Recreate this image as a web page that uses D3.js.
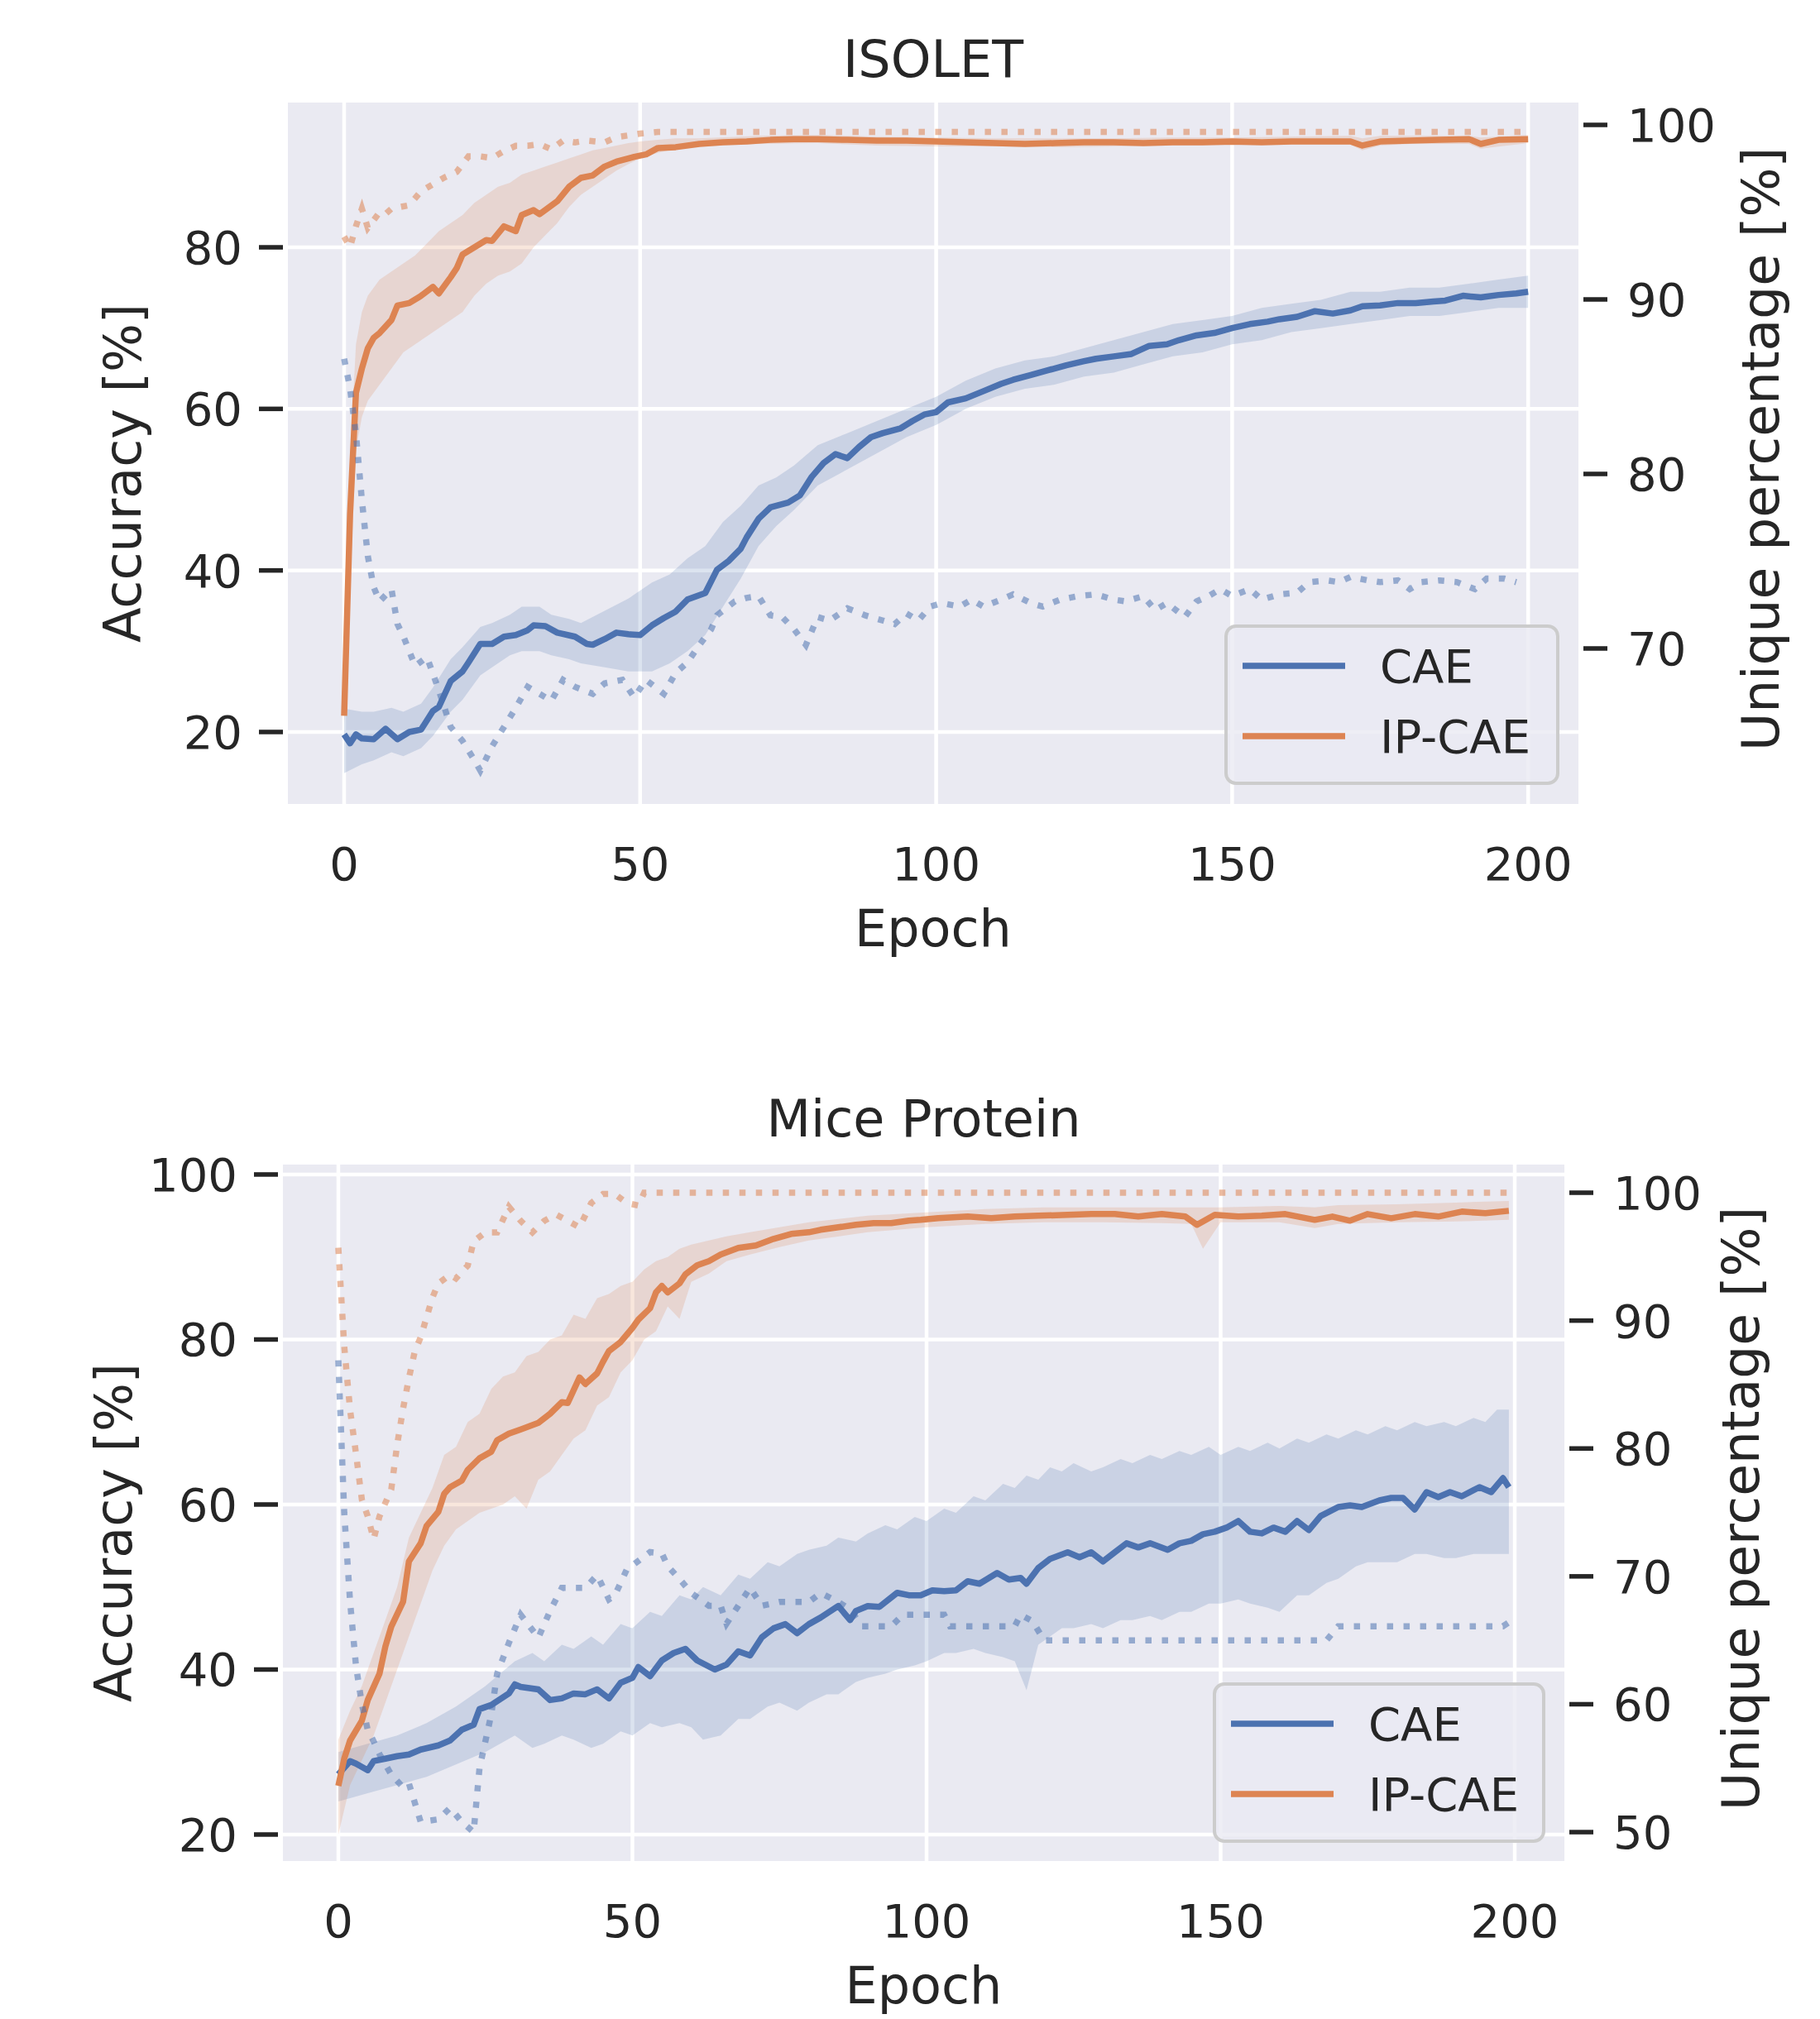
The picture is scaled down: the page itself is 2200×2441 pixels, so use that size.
<!DOCTYPE html>
<html>
<head>
<meta charset="utf-8">
<script src="https://cdnjs.cloudflare.com/ajax/libs/d3/7.8.5/d3.min.js"></script>
<style>
  body { margin: 0; background: #fff; }
  text { font-family: "DejaVu Sans", sans-serif; fill: #262626; }
</style>
</head>
<body>
<div id="chart"></div>
<script>
// ---- tick labels ----
var epochTicks = [0, 50, 100, 150, 200];
var isoAccTicks = [20, 40, 60, 80];
var isoUniqTicks = [70, 80, 90, 100];
var miceAccTicks = [20, 40, 60, 80, 100];
var miceUniqTicks = [50, 60, 70, 80, 90, 100];
var seriesNames = ['CAE', 'IP-CAE'];

// ---- ISOLET : [epoch, accuracy] ----
var isoCaeMean = [[0,19.7],[1,18.6],[2,19.7],[3,19.2],[5,19.1],[7,20.4],[9,19.1],[11,20],[13,20.3],[15,22.6],[16,23.1],[18,26.3],[20,27.5],[21,28.6],[23,30.9],[25,30.9],[27,31.8],[29,32],[31,32.6],[32,33.2],[34,33.1],[36,32.3],[39,31.8],[41,30.9],[42,30.8],[44,31.5],[46,32.3],[48,32.1],[50,32],[52,33.2],[54,34.1],[56,34.9],[58,36.4],[61,37.2],[63,40.1],[65,41.2],[67,42.7],[68,44.1],[70,46.4],[72,47.8],[75,48.4],[77,49.3],[79,51.6],[81,53.3],[83,54.4],[85,53.9],[87,55.3],[89,56.5],[91,57],[94,57.6],[96,58.5],[98,59.3],[100,59.6],[102,60.8],[105,61.3],[108,62.2],[111,63.1],[113,63.6],[116,64.2],[119,64.8],[122,65.4],[125,65.9],[127,66.2],[130,66.5],[133,66.8],[136,67.8],[139,68],[141,68.5],[144,69.1],[147,69.4],[150,70],[153,70.5],[156,70.8],[158,71.1],[161,71.4],[164,72.1],[167,71.8],[170,72.2],[172,72.7],[175,72.8],[178,73.1],[181,73.1],[184,73.3],[186,73.4],[189,74],[192,73.8],[195,74.1],[198,74.3],[200,74.5]];
// [epoch, low, high]
var isoCaeBand = [[0,14.9,22.9],[3,16,22.5],[5,16.5,22.5],[8,17.5,23],[10,17,22.5],[13,18,23.5],[15,19.5,25.5],[18,22.5,29],[20,24,30.5],[23,27,33],[25,28,33.5],[28,29.5,34.5],[30,30,35.5],[33,30,35.5],[35,29.5,34.5],[38,29,34],[40,28.5,33.5],[44,28,35],[48,27.5,36.5],[52,27.5,38.5],[55,28.5,39.5],[58,30,41.5],[61,32,43],[64,35.5,46],[67,39,48],[70,43,50.5],[73,45.5,51.5],[76,47.5,53],[80,50.5,55.5],[85,52.5,57],[90,54.5,58.5],[95,56.5,60],[100,58,61.5],[105,60,63.5],[110,61.5,65],[115,62.5,66],[120,63,66.5],[125,64,67.5],[130,64.5,68.5],[135,65.5,69.5],[140,66.5,70.5],[145,67,71],[150,68,71.5],[155,68.5,72.5],[160,69.5,73],[165,70,73.5],[170,70.5,74.5],[175,71,74.5],[180,71.5,75],[185,71.5,75],[190,72,75.5],[195,72.5,76],[200,72.5,76.5]];
var isoIpMean = [[0,22],[1,47],[2,62],[3,65],[4,67.5],[5,68.8],[6,69.4],[8,71],[9,72.8],[11,73.1],[13,74],[15,75.1],[16,74.3],[18,76.3],[19,77.4],[20,79.1],[22,80],[24,80.9],[25,80.8],[27,82.6],[29,82],[30,84],[32,84.6],[33,84.1],[36,85.7],[38,87.5],[40,88.6],[42,88.9],[44,90],[46,90.6],[49,91.2],[51,91.5],[53,92.3],[56,92.4],[60,92.8],[64,93],[68,93.1],[72,93.3],[76,93.4],[80,93.4],[85,93.3],[90,93.2],[95,93.2],[100,93.1],[105,93],[110,92.9],[115,92.8],[120,92.9],[125,93],[130,93],[135,92.9],[140,93],[145,93],[150,93.1],[155,93],[160,93.1],[165,93.1],[170,93.1],[172,92.6],[175,93.1],[180,93.2],[185,93.3],[190,93.4],[192,92.8],[195,93.3],[200,93.4]];
var isoIpBand = [[0,21,23],[1,38,54],[2,55,68],[3,59,72],[4,61,74],[6,63,76],[8,65,77],[10,67,78],[12,68,79],[14,69,80.5],[16,70,82],[18,71,83],[20,72,84],[22,74,85.5],[24,75.5,86.5],[26,76.5,87.5],[28,77,88],[30,78,89],[32,80,89.5],[34,81.5,90],[36,83,90.5],[38,85,91],[40,86.5,91.5],[42,87.5,92],[44,88.5,92.3],[46,89.5,92.6],[48,90.3,92.9],[50,91,93.1],[53,91.7,93.3],[56,92.2,93.5],[60,92.5,93.5],[70,92.8,93.8],[80,92.9,93.9],[90,92.6,93.7],[100,92.5,93.6],[110,92.5,93.5],[120,92.4,93.5],[130,92.5,93.5],[140,92.6,93.6],[150,92.6,93.6],[160,92.7,93.7],[170,92.7,93.8],[172,92,93.5],[175,92.6,93.8],[180,92.8,93.8],[190,92.8,93.8],[192,92.2,93.6],[200,92.9,93.9]];
// [epoch, unique %]
var isoCaeUnique = [[0,86.6],[1,84.9],[2,82.3],[3,78.5],[4,75.3],[5,73.5],[6,72.7],[8,73.4],[9,71.4],[10,70.7],[12,69],[14,69.5],[16,67.6],[18,65.5],[20,64.7],[22,63.6],[23,63],[25,64.4],[27,65.5],[29,66.6],[31,67.8],[33,67.4],[35,67],[37,68.2],[39,67.8],[42,67.4],[44,68],[47,68.2],[49,67.2],[51,68.2],[54,67.4],[56,68.6],[58,69.2],[60,70.2],[62,71.1],[63,71.9],[66,72.7],[68,72.9],[70,73],[72,71.9],[74,71.8],[76,71.1],[78,70.2],[80,71.8],[82,71.6],[85,72.3],[88,71.9],[91,71.6],[93,71.4],[95,72],[97,71.6],[99,72.4],[101,72.6],[104,72.4],[106,72.8],[108,72.4],[111,72.8],[113,73.1],[116,72.6],[118,72.4],[121,72.8],[124,73],[127,73.1],[130,72.8],[132,72.7],[135,73],[137,72.2],[139,72.6],[142,71.8],[144,72.7],[146,73],[148,73.4],[150,73],[153,73.4],[155,72.8],[158,73.1],[161,73.2],[163,73.8],[166,73.9],[168,73.8],[170,74.1],[173,73.9],[175,73.8],[178,73.9],[180,73.4],[182,73.8],[185,73.9],[188,73.8],[191,73.4],[193,74],[196,74],[198,73.8]];
var isoIpUnique = [[0,93.6],[1,93],[2,94.2],[3,95.2],[4,94.1],[6,95],[7,94.9],[8,95.2],[11,95.4],[13,96.2],[15,96.6],[17,97],[19,97.3],[21,98.2],[23,98.2],[25,98.1],[27,98.5],[29,98.8],[31,98.8],[33,98.9],[35,98.6],[37,99.1],[39,99],[41,99.1],[44,99],[46,99.3],[48,99.4],[50,99.5],[53,99.6],[200,99.6]];

// ---- Mice Protein ----
var miceCaeMean = [[0,27.3],[2,28.9],[3,28.6],[5,27.8],[6,28.9],[8,29.2],[10,29.5],[12,29.7],[14,30.3],[17,30.8],[19,31.4],[21,32.7],[23,33.3],[24,35.2],[26,35.7],[29,37.1],[30,38.2],[31,37.9],[34,37.6],[36,36.3],[38,36.5],[40,37.1],[42,37],[44,37.6],[46,36.5],[48,38.4],[50,39],[51,40.3],[53,39.2],[55,41.1],[57,42],[59,42.5],[61,41.1],[64,40],[66,40.6],[68,42.2],[70,41.7],[72,43.9],[74,45],[76,45.5],[78,44.4],[80,45.5],[82,46.3],[85,47.7],[87,46],[88,47.1],[90,47.7],[92,47.6],[95,49.3],[97,49],[99,49],[101,49.6],[103,49.5],[105,49.6],[107,50.7],[109,50.4],[112,51.7],[114,50.9],[116,51.1],[117,50.4],[119,52.3],[121,53.4],[124,54.2],[126,53.6],[128,54.2],[130,53.1],[132,54.2],[134,55.3],[136,54.8],[138,55.3],[141,54.5],[143,55.3],[145,55.6],[147,56.4],[149,56.7],[151,57.2],[153,58],[155,56.7],[157,56.5],[159,57.2],[161,56.7],[163,58],[165,56.9],[167,58.6],[170,59.7],[172,59.9],[174,59.7],[177,60.5],[179,60.8],[181,60.8],[183,59.4],[185,61.5],[187,60.9],[189,61.5],[191,61],[194,62.1],[196,61.5],[198,63.2],[199,62.1]];
var miceCaeBand = [[0,24,30],[5,25,31],[10,26,32],[15,27,33.5],[20,28.5,35.5],[25,30,38],[30,32,41],[33,30.5,42],[35,31,41],[38,32,43],[40,31.5,42.5],[43,30.5,44],[45,31,43],[48,32.5,45.5],[50,32,45],[53,33.5,47],[55,33,46.5],[58,33.5,49],[60,33,48.5],[62,31.5,50],[65,32,49],[68,34,51.5],[70,34,51],[73,35.5,53],[75,36,52.5],[78,35,54],[80,36,54.5],[83,37,55],[85,37,56],[88,38.5,55.5],[90,39,56.5],[93,39.5,57.5],[95,40,57],[98,40.5,58.5],[100,41,58],[103,42,59.5],[105,42,59],[108,42.5,61],[110,42,60.5],[113,41.5,62.5],[115,41,62],[117,37.5,63.5],[119,43,63],[121,44,64.5],[123,45,64],[125,45,65],[128,45.5,64],[130,45,64.5],[133,46,65.5],[135,46,65],[138,46.5,66],[140,46,65.5],[143,47,66.5],[145,47,66],[148,48,67],[150,48,66],[153,48.5,67],[155,48,66.5],[158,47.5,67.5],[160,47,66.8],[163,49,68],[165,49,67.5],[168,50.5,68.5],[170,51,68],[173,52.5,69],[175,53,68.5],[178,53,69.5],[180,53,69],[183,54,70],[185,54,69.5],[188,53.5,70],[190,53.5,69.5],[193,54,70.5],[195,54,70],[197,54,71.5],[199,54,71.5]];
var miceIpMean = [[0,25.9],[1,29.2],[2,31.4],[4,33.8],[5,36.3],[7,39.5],[8,42.8],[9,45.2],[11,48.2],[12,53.1],[14,55.3],[15,57.4],[17,59.1],[18,61.3],[19,62.1],[21,62.9],[22,64.2],[24,65.6],[26,66.4],[27,67.8],[29,68.6],[31,69.1],[34,69.9],[36,71],[38,72.4],[39,72.3],[41,75.4],[42,74.6],[44,75.9],[45,77.3],[46,78.6],[48,79.7],[50,81.4],[51,82.4],[53,83.8],[54,85.7],[55,86.5],[56,85.7],[58,86.8],[59,87.9],[61,89],[63,89.5],[65,90.3],[68,91.1],[71,91.4],[74,92.2],[77,92.8],[80,93],[82,93.3],[85,93.6],[88,93.9],[91,94.1],[94,94.1],[97,94.4],[99,94.5],[102,94.7],[107,94.9],[111,94.7],[115,94.9],[119,95],[124,95.1],[128,95.2],[132,95.2],[136,94.9],[140,95.2],[144,94.9],[146,93.9],[149,95.1],[153,94.9],[157,95],[161,95.2],[166,94.5],[169,94.9],[172,94.4],[175,95.2],[179,94.7],[183,95.2],[187,94.9],[191,95.5],[195,95.3],[199,95.6]];
var miceIpBand = [[0,20,31.5],[2,26,35],[4,29,38],[6,32,42],[8,36,46],[10,40,50],[12,44,56],[14,48,59],[16,52,62],[18,55,66],[20,57,67],[22,58,70],[24,59,71],[26,59.5,74],[28,60,75.5],[30,61,76],[32,59.5,78],[34,63,78.5],[36,64,80],[38,66,80.5],[40,68,83],[42,69,82.5],[44,72,85],[46,73,85.5],[48,76,86.5],[50,77.5,87],[52,80,88.5],[54,81,89.5],[56,84,90],[58,82.5,91],[60,87,91.5],[63,88,92],[66,89.5,92.5],[70,90.3,93],[75,91.2,93.6],[80,92,94.2],[90,93,95],[100,93.6,95.4],[110,94,95.8],[120,94.2,96],[130,94.2,96],[140,94.1,96],[145,94,96],[147,91,96],[150,94.2,96],[160,94.2,96.2],[166,93.5,96],[170,94,96.3],[180,94.2,96.4],[190,94.3,96.6],[199,94.5,96.8]];
var miceCaeUnique = [[0,86.9],[1,75],[2,68],[3,63],[4,60],[5,58],[6,57.1],[7,56.1],[9,54.5],[11,53.5],[12,53.8],[14,50.8],[17,51],[19,51.9],[21,50.8],[23,50],[24,55],[26,59.2],[27,62.4],[29,64.8],[31,67],[34,65.2],[36,67.3],[38,69.1],[40,69.1],[42,69.1],[44,70.1],[46,68.2],[47,68.5],[49,70.5],[51,71.2],[53,71.9],[55,71.8],[56,70.8],[58,69.8],[60,68.7],[63,67.7],[65,67.7],[66,66.3],[68,67.7],[70,69.1],[72,67.7],[75,68],[80,68],[82,68.7],[85,68],[87,67.4],[89,66.1],[94,66.1],[96,67],[103,67],[104,66.1],[115,66.1],[116,67],[118,66.5],[120,65],[168,65],[170,66.1],[198,66.1],[199,66.4]];
var miceIpUnique = [[0,95.7],[1,88],[2,83],[3,79.6],[4,76],[5,74.7],[6,72.9],[7,74.7],[9,76.8],[10,80.3],[11,83.1],[12,85.5],[13,87.6],[14,88.7],[16,91.8],[17,92.9],[19,93.6],[20,93.3],[22,94.3],[23,96.2],[25,96.9],[27,96.9],[29,98.9],[31,97.8],[33,96.9],[35,97.8],[37,98.3],[39,97.8],[41,97.3],[43,99.2],[45,99.9],[47,99.9],[49,99.2],[51,99],[52,100],[199,100]];

var blue = '#4c72b0', orange = '#dd8452';
var lineW = 7.5;

var svg = d3.select('#chart').append('svg')
	.attr('width', 2200)
	.attr('height', 2441)
	.style('display', 'block');

svg.append('rect').attr('width', 2200).attr('height', 2441).attr('fill', '#fff');

function drawPanel(p) {
	var g = svg.append('g');
	var x = d3.scaleLinear().domain(p.xDom).range([p.l, p.r]);
	var y = d3.scaleLinear().domain(p.yDom).range([p.b, p.t]);
	var y2 = d3.scaleLinear().domain(p.y2Dom).range([p.b, p.t]);

	g.append('rect')
		.attr('x', p.l).attr('y', p.t)
		.attr('width', p.r - p.l).attr('height', p.b - p.t)
		.attr('fill', '#eaeaf2');

	// grid
	g.selectAll('.vgrid').data(epochTicks).enter().append('line')
		.attr('x1', function(d) { return x(d); }).attr('x2', function(d) { return x(d); })
		.attr('y1', p.t).attr('y2', p.b)
		.attr('stroke', '#fff').attr('stroke-width', 4.5);
	g.selectAll('.hgrid').data(p.yTicks).enter().append('line')
		.attr('y1', function(d) { return y(d); }).attr('y2', function(d) { return y(d); })
		.attr('x1', p.l).attr('x2', p.r)
		.attr('stroke', '#fff').attr('stroke-width', 4.5);

	var clipId = 'clip_' + p.id;
	svg.append('clipPath').attr('id', clipId).append('rect')
		.attr('x', p.l).attr('y', p.t)
		.attr('width', p.r - p.l).attr('height', p.b - p.t);
	var plot = g.append('g').attr('clip-path', 'url(#' + clipId + ')');

	var area = d3.area()
		.x(function(d) { return x(d[0]); })
		.y0(function(d) { return y(d[1]); })
		.y1(function(d) { return y(d[2]); });
	var line = d3.line()
		.x(function(d) { return x(d[0]); })
		.y(function(d) { return y(d[1]); });
	var line2 = d3.line()
		.x(function(d) { return x(d[0]); })
		.y(function(d) { return y2(d[1]); });

	p.series.forEach(function(s) {
		plot.append('path').attr('d', area(s.band))
			.attr('fill', s.color).attr('fill-opacity', 0.2);
	});
	p.series.forEach(function(s) {
		plot.append('path').attr('d', line(s.mean))
			.attr('fill', 'none').attr('stroke', s.color)
			.attr('stroke-width', lineW).attr('stroke-linejoin', 'round');
	});
	p.series.forEach(function(s) {
		plot.append('path').attr('d', line2(s.unique))
			.attr('fill', 'none').attr('stroke', s.color)
			.attr('stroke-opacity', 0.55)
			.attr('stroke-width', lineW).attr('stroke-dasharray', '7.5 12.5');
	});

	// left axis ticks
	g.selectAll('.lt').data(p.yTicks).enter().append('line')
		.attr('x1', p.l - 35).attr('x2', p.l - 6)
		.attr('y1', function(d) { return y(d); }).attr('y2', function(d) { return y(d); })
		.attr('stroke', '#262626').attr('stroke-width', 5.5);
	g.selectAll('.ll').data(p.yTicks).enter().append('text')
		.attr('x', p.l - 55)
		.attr('y', function(d) { return y(d) + 20; })
		.attr('text-anchor', 'end')
		.attr('font-size', 56)
		.text(function(d) { return d; });

	// right axis ticks
	g.selectAll('.rt').data(p.y2Ticks).enter().append('line')
		.attr('x1', p.r + 6).attr('x2', p.r + 35)
		.attr('y1', function(d) { return y2(d); }).attr('y2', function(d) { return y2(d); })
		.attr('stroke', '#262626').attr('stroke-width', 5.5);
	g.selectAll('.rl').data(p.y2Ticks).enter().append('text')
		.attr('x', p.r + 59)
		.attr('y', function(d) { return y2(d) + 20; })
		.attr('font-size', 56)
		.text(function(d) { return d; });

	// x tick labels
	g.selectAll('.xl').data(epochTicks).enter().append('text')
		.attr('x', function(d) { return x(d); })
		.attr('y', p.b + 92)
		.attr('text-anchor', 'middle')
		.attr('font-size', 56)
		.text(function(d) { return d; });

	// titles and labels
	var cx = (p.l + p.r) / 2, cy = (p.t + p.b) / 2;
	g.append('text').attr('x', cx).attr('y', p.titleY)
		.attr('text-anchor', 'middle').attr('font-size', 62).text(p.title);
	g.append('text').attr('x', cx).attr('y', p.b + 172)
		.attr('text-anchor', 'middle').attr('font-size', 62).text('Epoch');
	g.append('text')
		.attr('transform', 'translate(' + p.yLabelX + ',' + (cy + 24) + ') rotate(-90)')
		.attr('text-anchor', 'middle').attr('font-size', 62).text('Accuracy [%]');
	g.append('text')
		.attr('transform', 'translate(' + p.y2LabelX + ',' + (cy - 5) + ') rotate(-90)')
		.attr('text-anchor', 'middle').attr('font-size', 63).text('Unique percentage [%]');

	// legend
	var lg = g.append('g').attr('transform', 'translate(' + p.lgX + ',' + p.lgY + ')');
	lg.append('rect')
		.attr('x', 0).attr('y', 0).attr('width', p.lgW).attr('height', 190)
		.attr('rx', 12).attr('ry', 12)
		.attr('fill', '#eaeaf2').attr('fill-opacity', 0.8)
		.attr('stroke', '#cccccc').attr('stroke-width', 4);
	p.series.forEach(function(s, i) {
		var ry = 48 + i * 85;
		lg.append('line').attr('x1', 20).attr('x2', 144)
			.attr('y1', ry).attr('y2', ry)
			.attr('stroke', s.color).attr('stroke-width', lineW);
		lg.append('text').attr('x', 186).attr('y', ry + 20)
			.attr('font-size', 56).text(s.name);
	});
}

drawPanel({
	id: 'iso', title: 'ISOLET',
	l: 348, r: 1908, t: 124, b: 972,
	xDom: [-9.5, 208.5], yDom: [11.09, 97.92], y2Dom: [61.09, 101.28],
	yTicks: isoAccTicks, y2Ticks: isoUniqTicks,
	titleY: 93, yLabelX: 170, y2LabelX: 2150,
	lgX: 1482, lgY: 757, lgW: 401,
	series: [
		{ name: seriesNames[0], color: blue, mean: isoCaeMean, band: isoCaeBand, unique: isoCaeUnique },
		{ name: seriesNames[1], color: orange, mean: isoIpMean, band: isoIpBand, unique: isoIpUnique }
	]
});

drawPanel({
	id: 'mice', title: 'Mice Protein',
	l: 342, r: 1891, t: 1408, b: 2250,
	xDom: [-9.42, 208.44], yDom: [16.79, 101.2], y2Dom: [47.74, 102.2],
	yTicks: miceAccTicks, y2Ticks: miceUniqTicks,
	titleY: 1374, yLabelX: 159, y2LabelX: 2126,
	lgX: 1468, lgY: 2036, lgW: 398,
	series: [
		{ name: seriesNames[0], color: blue, mean: miceCaeMean, band: miceCaeBand, unique: miceCaeUnique },
		{ name: seriesNames[1], color: orange, mean: miceIpMean, band: miceIpBand, unique: miceIpUnique }
	]
});
</script>
</body>
</html>
